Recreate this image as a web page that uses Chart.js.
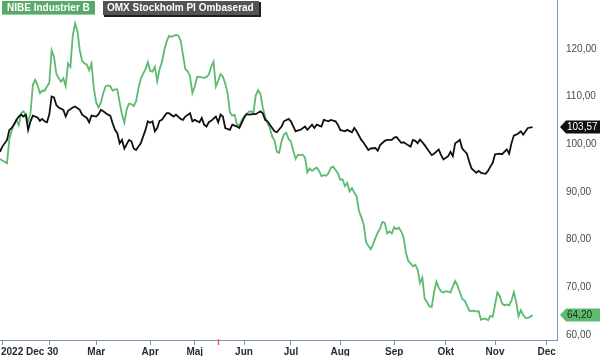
<!DOCTYPE html>
<html><head><meta charset="utf-8">
<script src="https://cdn.jsdelivr.net/npm/chart.js@4"></script>
<style>html,body{margin:0;padding:0;background:#fff;}#wrap{width:600px;height:356px;}</style>
</head><body><div id="wrap"><canvas id="c" width="600" height="356"></canvas></div>
<script>
// trading-day index 0 = 2021-12-30
const monthTickDays   = [1, 21, 41, 64, 83, 104, 124, 145, 168, 190, 211, 233];
const monthTickLabels = ['2022 Dec 30', '', 'Mar', 'Apr', 'Maj', 'Jun', 'Jul', 'Aug', 'Sep', 'Okt', 'Nov', 'Dec'];
const yTickValues = [60, 70, 80, 90, 100, 110, 120];
const markerDay = 93;
const seriesNames = ['NIBE Industrier B', 'OMX Stockholm PI Ombaserad'];

const nibeValues = [
  96.9, 96.6, 96.3, 96.0, 101.2, 102.9, 104.3, 105.1, 104.0, 106.5,
  106.9, 106.2, 104.8, 106.5, 112.4, 113.5, 112.4, 110.7, 111.2, 111.2,
  112.1, 112.8, 119.7, 118.3, 114.8, 113.8, 113.1, 113.8, 112.2, 116.9,
  116.2, 122.7, 125.3, 123.7, 119.7, 117.5, 116.9, 116.7, 115.5, 116.9,
  111.7, 108.7, 107.7, 108.7, 110.7, 112.1, 112.3, 112.2, 111.2, 111.5,
  111.5, 108.7, 106.2, 104.5, 107.3, 108.5, 108.4, 108.0, 109.0, 111.7,
  113.7, 114.8, 115.7, 117.2, 115.4, 115.2, 116.2, 113.2, 115.7, 117.2,
  119.7, 121.5, 122.7, 122.5, 122.7, 122.9, 122.8, 121.7, 118.7, 115.7,
  115.3, 114.2, 110.7, 112.1, 114.1, 114.1, 114.0, 113.9, 114.1, 114.6,
  116.2, 117.3, 112.1, 113.3, 114.7, 114.2, 112.7, 110.7, 106.7, 106.0,
  106.2, 104.1, 103.9, 105.0, 105.8, 106.3, 106.8, 106.9, 106.5, 110.2,
  111.3, 110.5, 107.7, 105.8, 104.4, 103.4, 101.6, 100.8, 98.4, 98.2,
  100.6, 102.0, 102.4, 101.1, 100.6, 98.6, 96.9, 97.8, 97.7, 97.8,
  97.2, 94.1, 94.9, 94.4, 94.8, 95.1, 94.4, 93.3, 93.5, 93.4,
  93.9, 95.1, 95.3, 94.6, 93.9, 92.6, 92.6, 91.2, 91.9, 90.1,
  90.8, 89.8, 89.1, 86.0, 84.7, 83.2, 79.5, 78.7, 78.0, 79.0,
  80.3, 81.5, 82.3, 83.7, 83.5, 81.3, 81.7, 81.3, 82.6, 82.2,
  82.5, 81.7, 80.5, 77.3, 75.5, 75.0, 74.4, 74.7, 73.7, 70.9,
  72.0, 67.6, 66.9, 66.0, 65.9, 68.9, 71.2, 69.9, 69.1, 68.9,
  69.2, 69.1, 68.9, 70.2, 71.3, 70.4, 68.9, 67.6, 67.2, 66.2,
  65.1, 65.0, 65.1, 64.9, 65.0, 63.2, 63.4, 63.4, 63.1, 64.0,
  63.8, 66.4, 68.9, 68.2, 66.6, 66.2, 66.4, 66.2, 67.2, 69.0,
  66.9, 63.9, 65.2, 64.2, 63.6, 63.6, 63.8, 64.2
];
const nibeDays = nibeValues.map((v, i) => i);

const omxDays = [
  0, 1, 3, 4, 5, 6, 7, 8, 9, 10, 11, 12, 13, 14, 16, 17, 18, 19, 20, 21,
  22, 23, 24, 25, 27, 28, 29, 31, 32, 34, 35, 37, 38, 39, 41, 42, 43, 44, 46, 47,
  48, 49, 50, 51, 52, 53, 55, 56, 57, 58, 59, 60, 62, 63, 64, 65, 66, 67, 68, 69,
  71, 72, 74, 75, 77, 78, 79, 81, 82, 83, 85, 86, 87, 88, 89, 90, 92, 93, 94, 95,
  96, 98, 99, 101, 102, 104, 105, 106, 108, 109, 111, 112, 113, 114, 116, 117, 118, 120, 121, 123,
  124, 126, 127, 128, 130, 131, 133, 134, 135, 137, 138, 140, 141, 143, 144, 145, 147, 148, 150, 151,
  152, 154, 155, 157, 158, 160, 161, 162, 164, 165, 167, 168, 169, 171, 172, 174, 175, 176, 177, 178,
  179, 181, 182, 184, 185, 187, 188, 189, 191, 192, 193, 194, 195, 196, 197, 199, 200, 201, 203, 204,
  205, 207, 208, 209, 210, 211, 213, 214, 216, 217, 218, 219, 220, 221, 222, 223, 224, 225, 227
];
const omxValues = [
  98.4, 99.5, 100.9, 103.0, 103.4, 104.1, 105.1, 105.8, 106.2, 105.8, 106.2, 103.0, 104.8, 106.0, 105.6, 104.9, 105.3, 104.8, 104.6, 106.2,
  110.0, 109.8, 108.2, 107.7, 107.2, 105.8, 107.0, 107.7, 107.9, 107.2, 106.2, 105.5, 104.6, 106.0, 105.8, 106.3, 107.2, 106.9, 106.2, 106.0,
  104.4, 103.0, 102.3, 100.2, 100.9, 99.1, 100.9, 100.6, 99.1, 98.8, 99.5, 100.2, 103.0, 104.8, 104.5, 104.8, 102.7, 103.4, 104.9, 105.1,
  106.5, 106.5, 105.8, 106.2, 105.3, 105.1, 105.8, 106.5, 104.8, 105.1, 104.6, 105.5, 104.1, 103.7, 104.6, 104.9, 105.8, 104.6, 106.2, 105.8,
  103.4, 103.0, 104.1, 103.7, 103.4, 105.5, 106.3, 106.2, 106.3, 106.3, 106.9, 106.5, 105.1, 104.8, 103.4, 102.7, 102.5, 103.7, 104.8, 105.3,
  104.8, 102.7, 102.9, 103.0, 103.7, 103.0, 104.1, 103.4, 104.1, 103.7, 105.1, 104.8, 105.1, 104.8, 104.1, 103.0, 102.7, 103.0, 102.5, 103.4,
  102.7, 100.9, 100.3, 98.8, 99.1, 99.2, 98.6, 99.8, 100.7, 100.9, 100.9, 101.4, 101.5, 100.3, 100.4, 99.8, 99.5, 100.9, 100.7, 100.2,
  101.0, 99.8, 99.1, 97.7, 98.0, 98.9, 97.7, 96.8, 97.5, 98.4, 97.5, 100.2, 100.5, 100.9, 99.1, 98.0, 96.3, 94.9, 94.0, 94.4,
  94.0, 93.8, 94.4, 95.3, 96.1, 97.9, 98.0, 97.9, 98.9, 98.0, 100.2, 101.8, 102.0, 102.3, 102.7, 102.0, 102.7, 103.4, 103.57
];

const AXIS_COLOR = '#7a98b5';
const GREEN = '#5dba6e';

function fmt(v) { return v.toFixed(2).replace('.', ','); }

const overlay = {
  id: 'overlay',
  afterDraw(chart) {
    const ctx = chart.ctx, xs = chart.scales.x, ys = chart.scales.y, area = chart.chartArea;
    ctx.save();
    // red marker on the time axis
    const mx = Math.round(xs.getPixelForValue(markerDay)) + 0.5;
    ctx.strokeStyle = '#ff5a5a'; ctx.lineWidth = 1.5;
    ctx.beginPath(); ctx.moveTo(mx, area.bottom - 1); ctx.lineTo(mx, area.bottom + 5); ctx.stroke();

    // x labels
    ctx.font = 'bold 10px "Liberation Sans", Arial, sans-serif';
    ctx.fillStyle = '#2a2a2a'; ctx.textBaseline = 'alphabetic';
    monthTickDays.forEach((d, i) => {
      const lbl = monthTickLabels[i];
      if (!lbl) return;
      if (i === 0) { ctx.textAlign = 'left'; ctx.fillText(lbl, 1, 355); }
      else { ctx.textAlign = 'center'; ctx.fillText(lbl, xs.getPixelForValue(d), 355); }
    });

    // legend boxes
    ctx.textAlign = 'left'; ctx.textBaseline = 'middle';
    ctx.fillStyle = '#5aa968'; ctx.fillRect(2, 1, 93, 14);
    ctx.fillStyle = '#8fd39c'; ctx.fillRect(2, 14, 93, 1);
    ctx.fillStyle = '#ffffff'; ctx.fillText(seriesNames[0], 7, 8.5);
    ctx.fillStyle = '#1e1e1e'; ctx.fillRect(104, 2, 157, 15);
    ctx.fillStyle = '#545454'; ctx.fillRect(103, 1, 156, 14);
    ctx.fillStyle = '#ffffff'; ctx.fillText(seriesNames[1], 107, 8.5);

    // last-value tags
    function tag(value, bg, fg) {
      const cy = Math.round(ys.getPixelForValue(value));
      const x0 = area.right + 3, x1 = x0 + 6, x2 = 600, h = 6.5;
      ctx.fillStyle = bg;
      ctx.beginPath();
      ctx.moveTo(x0, cy); ctx.lineTo(x1, cy - h); ctx.lineTo(x2, cy - h);
      ctx.lineTo(x2, cy + h); ctx.lineTo(x1, cy + h); ctx.closePath(); ctx.fill();
      ctx.font = '10px "Liberation Sans", Arial, sans-serif';
      ctx.fillStyle = fg; ctx.textAlign = 'left'; ctx.textBaseline = 'middle';
      ctx.fillText(fmt(value), x1 + 1, cy + 0.5);
    }
    tag(omxValues[omxValues.length - 1], '#111111', '#ffffff');
    tag(nibeValues[nibeValues.length - 1], GREEN, '#1c2e1f');
    ctx.restore();
  }
};

new Chart(document.getElementById('c'), {
  type: 'line',
  data: {
    datasets: [
      {
        label: seriesNames[1],
        data: omxDays.map((d, i) => ({ x: d, y: omxValues[i] })),
        borderColor: '#111111', borderWidth: 1.8, pointRadius: 0, tension: 0, order: 0
      },
      {
        label: seriesNames[0],
        data: nibeDays.map((d, i) => ({ x: d, y: nibeValues[i] })),
        borderColor: GREEN, borderWidth: 1.8, pointRadius: 0, tension: 0, order: 1
      }
    ]
  },
  options: {
    responsive: false, animation: false, devicePixelRatio: 1,
    layout: { padding: 0 },
    plugins: { legend: { display: false }, tooltip: { enabled: false }, title: { display: false } },
    scales: {
      x: {
        type: 'linear', position: 'bottom', min: 0, max: 237.4,
        afterBuildTicks: s => { s.ticks = monthTickDays.map(v => ({ value: v })); },
        afterFit: s => { s.height = 16; s.paddingLeft = 0; s.paddingRight = 0; },
        grid: { display: true, drawOnChartArea: false, drawTicks: true, tickLength: 5, color: AXIS_COLOR, lineWidth: 1 },
        border: { display: true, color: AXIS_COLOR, width: 1 },
        ticks: { display: false }
      },
      y: {
        type: 'linear', position: 'right', min: 58.95, max: 130.23,
        afterBuildTicks: s => { s.ticks = yTickValues.map(v => ({ value: v })); },
        afterFit: s => { s.width = 43; s.paddingTop = 0; s.paddingBottom = 0; },
        grid: { display: true, drawOnChartArea: false, drawTicks: false },
        border: { display: true, color: AXIS_COLOR, width: 1 },
        ticks: {
          padding: 9, color: '#4a4a4a',
          font: { family: '"Liberation Sans", Arial, sans-serif', size: 10 },
          callback: v => fmt(v)
        }
      }
    }
  },
  plugins: [overlay]
});
</script>
</body></html>
